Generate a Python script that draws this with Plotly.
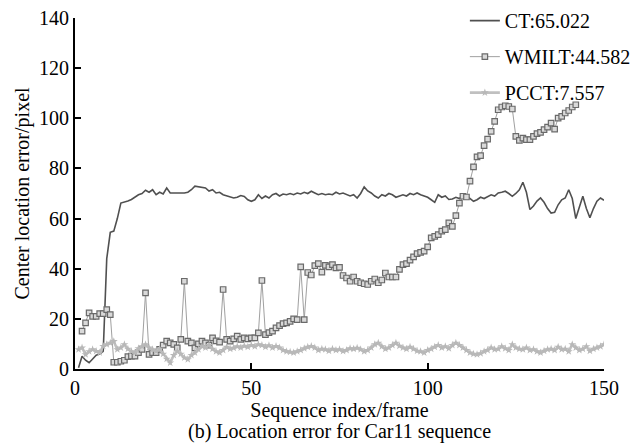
import plotly.graph_objects as go

# ---- data ----
frames = list(range(1, 151))

ct_values = [0.5, 5.1, 3.5, 2.5, 4.0, 5.5, 6.0, 7.0, 44.0, 54.5,
             55.0, 60.0, 66.2, 66.5, 67.0, 67.6, 68.5, 69.5, 70.0, 71.3,
             70.5, 71.5, 69.5, 70.5, 69.8, 72.2, 70.2, 70.2, 70.2, 70.0,
             70.2, 70.5, 71.5, 72.9, 72.7, 72.5, 72.2, 71.0, 71.5, 70.2,
             70.5, 69.5, 69.0, 68.5, 68.2, 68.5, 69.2, 68.8, 67.5, 66.9,
             67.5, 69.5, 68.0, 69.0, 68.2, 69.5, 70.0, 69.0, 69.8, 69.5,
             70.0, 69.5, 70.2, 69.8, 70.5, 70.0, 70.9, 70.2, 69.5, 70.0,
             69.5, 69.8, 69.5, 70.5, 69.8, 70.2, 69.5, 69.0, 69.5, 68.2,
             70.0, 72.6, 71.0, 70.2, 69.0, 68.2, 69.5, 69.0, 70.0, 69.5,
             68.5, 68.9, 69.5, 69.0, 70.0, 69.5, 70.2, 69.5, 68.9, 68.5,
             67.5, 66.5, 69.5, 68.5, 69.0, 67.6, 67.8, 68.5, 68.0, 69.0,
             69.2, 68.0, 66.9, 67.5, 68.5, 68.0, 68.9, 69.5, 69.0, 70.2,
             70.5, 70.9, 70.0, 68.9, 70.0, 71.5, 74.5, 70.5, 63.6, 65.0,
             67.0, 68.2, 66.5, 64.0, 62.2, 62.5, 65.5, 67.5, 68.2, 71.5,
             68.0, 60.0, 64.5, 68.9, 64.0, 60.3, 64.0, 66.9, 68.2, 67.3]

wmilt_frames = list(range(2, 144))
wmilt_values = [15.1, 18.4, 22.4, 21.0, 21.0, 22.1, 22.1, 23.7, 21.7,
                2.7, 2.7, 3.1, 3.5, 4.9, 5.1, 5.1, 6.5, 7.8, 30.4,
                5.8, 6.5, 6.5, 7.8, 9.5, 11.1, 10.4, 9.8, 8.4, 11.8,
                35.0, 11.1, 10.4, 8.4, 10.0, 11.1, 10.4, 9.5, 12.4, 11.2,
                10.7, 31.7, 11.8, 11.1, 12.0, 13.1, 11.8, 12.4, 12.0, 12.4,
                12.4, 14.4, 35.3, 13.7, 14.5, 15.1, 16.4, 17.3, 18.1, 18.4,
                19.0, 20.0, 19.7, 40.7, 19.7, 38.5, 37.5, 41.2, 42.0, 38.6,
                41.3, 40.7, 41.6, 40.3, 40.5, 37.3, 36.3, 35.0, 36.7, 35.0,
                34.4, 34.0, 33.7, 35.0, 35.9, 34.4, 35.5, 38.3, 36.7, 36.7,
                36.7, 39.7, 41.6, 42.0, 43.4, 44.7, 46.0, 46.5, 47.0, 48.7,
                52.3, 52.9, 53.6, 55.0, 55.6, 58.3, 56.9, 61.2, 66.2, 68.9,
                68.6, 74.9, 80.6, 84.6, 85.1, 89.1, 91.7, 94.8, 98.8, 103.4,
                104.5, 105.0, 104.7, 103.7, 92.8, 91.2, 92.1, 91.5, 91.5, 92.8,
                93.9, 94.4, 95.5, 96.5, 98.1, 95.7, 100.1, 100.8, 102.1, 103.1,
                104.5, 105.4]

pcct_values = [7.8, 8.5, 5.8, 7.0, 7.8, 7.1, 6.5, 9.1, 9.8, 10.4,
               11.0, 7.8, 8.5, 9.8, 8.0, 7.0, 6.5, 8.2, 9.0, 9.8,
               8.5, 7.8, 7.1, 8.0, 6.0, 4.0, 2.5, 5.5, 7.1, 6.0,
               4.5, 3.8, 5.5, 6.5, 7.8, 9.1, 8.5, 9.5, 8.0, 7.0,
               6.5, 7.5, 8.8, 8.0, 8.4, 9.0, 8.5, 9.2, 8.8, 9.5,
               9.0, 9.8, 9.5, 8.8, 9.4, 8.5, 9.1, 8.5, 7.5, 7.0,
               6.8, 6.5, 7.0, 7.5, 8.2, 8.8, 9.1, 8.5, 7.5, 8.0,
               7.8, 7.2, 8.0, 7.5, 7.8, 7.1, 7.5, 8.2, 8.0, 8.4,
               7.8, 7.0, 7.5, 8.5, 9.8, 10.4, 9.0, 8.0, 8.5, 9.5,
               10.4, 9.2, 8.5, 8.0, 8.8, 8.0, 7.2, 7.0, 6.5, 7.5,
               8.0, 8.8, 9.5, 8.5, 9.0, 8.2, 9.5, 10.4, 9.5, 8.5,
               7.5, 6.5, 6.0, 5.8, 6.2, 7.0, 7.5, 8.5, 7.8, 8.0,
               9.0, 8.2, 7.5, 9.8, 8.5, 8.0, 7.8, 8.5, 7.5, 7.8,
               7.0, 6.5, 7.2, 7.8, 8.0, 7.5, 8.8, 7.8, 8.0, 7.0,
               9.8, 8.5, 7.5, 8.0, 9.0, 7.2, 8.0, 8.5, 9.0, 9.8]

legend_names = ["CT:65.022", "WMILT:44.582", "PCCT:7.557"]
x_ticks = [0, 50, 100, 150]
y_ticks = [0, 20, 40, 60, 80, 100, 120, 140]

FONT = "Liberation Serif, Times New Roman, serif"

fig = go.Figure()
fig.add_trace(go.Scatter(
    x=frames, y=ct_values, mode="lines", name=legend_names[0],
    line=dict(color="#505050", width=1.6), legendgroup="a"))
fig.add_trace(go.Scatter(
    x=wmilt_frames, y=wmilt_values, mode="lines+markers", name=legend_names[1],
    line=dict(color="#a0a0a0", width=1),
    marker=dict(symbol="square", size=5.5, color="#d9d9d9",
                line=dict(color="#6a6a6a", width=1.2)), legendgroup="b"))
fig.add_trace(go.Scatter(
    x=frames, y=pcct_values, mode="lines+markers", name=legend_names[2],
    line=dict(color="#c0c0c0", width=2.6),
    marker=dict(symbol="star", size=6, color="#b8b8b8"), legendgroup="c"))

fig.update_layout(
    width=643, height=446,
    margin=dict(l=74.5, r=39, t=18, b=76.5, autoexpand=False),
    paper_bgcolor="white", plot_bgcolor="white",
    font=dict(family=FONT, size=20, color="black"),
    showlegend=True,
    legend=dict(x=0.737, y=1.048, xanchor="left", yanchor="top",
                bgcolor="rgba(0,0,0,0)", font=dict(family=FONT, size=20),
                traceorder="grouped", tracegroupgap=7, itemwidth=30),
    xaxis=dict(range=[0, 150], tickvals=x_ticks, ticks="inside", ticklen=6,
               tickwidth=2, tickcolor="black", showline=True, linecolor="black",
               linewidth=2, showgrid=False, zeroline=False, automargin=False,
               tickfont=dict(family=FONT, size=20),
               title=dict(text="Sequence index/frame", standoff=2,
                          font=dict(family=FONT, size=20))),
    yaxis=dict(range=[0, 140], tickvals=y_ticks, ticks="inside", ticklen=6,
               tickwidth=2, tickcolor="black", showline=True, linecolor="black",
               linewidth=2, showgrid=False, zeroline=False, automargin=False,
               tickfont=dict(family=FONT, size=20),
               title=dict(text="Center location error/pixel", standoff=4,
                          font=dict(family=FONT, size=20))),
    annotations=[dict(text="(b) Location error for Car11 sequence",
                      xref="paper", yref="paper", x=0.5, y=-0.178,
                      xanchor="center", yanchor="middle", showarrow=False,
                      font=dict(family=FONT, size=20))],
)

fig.write_html("out.html")
